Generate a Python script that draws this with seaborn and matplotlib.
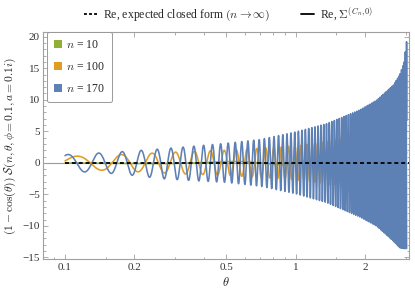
import numpy as np
import pandas as pd
import matplotlib
matplotlib.use("Agg")
import matplotlib.pyplot as plt
import seaborn as sns
from matplotlib.lines import Line2D
from matplotlib.patches import Patch

# ---------------- data ----------------
n_values = [10, 100, 170]
series_labels = [r"$n$ = 10", r"$n$ = 100", r"$n$ = 170"]
series_colors = ["#8FB032", "#E19C24", "#5E81B5"]
# theta of a crest of each series (phase)
crest_theta = [-0.094, 0.1127, 0.103]

# envelope knots (theta) and crest / trough heights
theta_knots = [0.1, 0.15, 0.2, 0.26, 0.35, 0.5, 0.7, 1.0, 1.36, 1.9, 2.24, 2.65, 2.83, 2.95, 3.03]
upper_10 = [0.12, 0.12, 0.12, 0.13, 0.15, 0.2, 0.25, 0.35, 0.45, 0.6, 0.75, 1.0, 1.2, 1.4, 1.6]
lower_10 = [0.12, 0.12, 0.12, 0.13, 0.15, 0.2, 0.25, 0.35, 0.45, 0.6, 0.75, 1.0, 1.2, 1.4, 1.6]
upper_100 = [1.0, 1.2, 1.4, 1.6, 1.8, 2.0, 2.3, 2.7, 3.3, 4.5, 5.4, 7.2, 8.5, 10.5, 15.0]
lower_100 = [1.0, 1.2, 1.4, 1.6, 1.8, 2.0, 2.3, 2.7, 3.3, 4.5, 5.4, 7.2, 8.5, 10.5, 15.0]
upper_170 = [1.3, 1.6, 1.9, 2.2, 2.6, 3.1, 3.7, 4.9, 6.2, 8.4, 9.9, 12.3, 14.0, 16.0, 19.5]
lower_170 = [1.3, 1.6, 2.0, 2.5, 2.8, 3.1, 3.7, 4.9, 6.3, 8.6, 10.0, 12.4, 13.5, 13.6, 13.6]
upper_env = [upper_10, upper_100, upper_170]
lower_env = [lower_10, lower_100, lower_170]

theta_start, theta_end = 0.1, 3.03
closed_theta = [0.1, 3.1]
closed_value = [0.0, 0.0]

x_major = [0.1, 0.2, 0.5, 1, 2]
x_major_labels = ["0.1", "0.2", "0.5", "1", "2"]
x_minor = [0.09, 0.15, 0.3, 0.4, 0.6, 0.7, 0.8, 0.9, 1.5, 3]
y_major = [-15, -10, -5, 0, 5, 10, 15, 20]

# ---------------- build long table ----------------
theta = np.linspace(theta_start, theta_end, 40000)
logk = np.log(theta_knots)
frames = []
for n, lab, c0, up, lo in zip(n_values, series_labels, crest_theta, upper_env, lower_env):
    carrier = np.cos(n * (theta - c0))
    up_i = np.interp(np.log(theta), logk, up)
    lo_i = np.interp(np.log(theta), logk, lo)
    val = np.where(carrier > 0, up_i * carrier, lo_i * carrier)
    frames.append(pd.DataFrame({"theta": theta, "value": val, "series": lab}))
df = pd.concat(frames, ignore_index=True)
df_closed = pd.DataFrame({"theta": closed_theta, "value": closed_value})

# ---------------- style ----------------
sns.set_theme(style="ticks")
plt.rcParams["font.family"] = ["Liberation Serif", "DejaVu Serif"]
plt.rcParams["mathtext.fontset"] = "cm"

W, H = 415, 296
fig = plt.figure(figsize=(W / 100, H / 100), dpi=100)
left, right, top, bottom = 43.3, 409.3, 32.3, 259.3
ax = fig.add_axes([left / W, 1 - bottom / H, (right - left) / W, (bottom - top) / H])

ax.axhline(0, color="#9a9a9a", lw=0.8, zorder=0.5)

sns.lineplot(data=df, x="theta", y="value", hue="series", hue_order=series_labels,
             palette=series_colors, estimator=None, sort=False, lw=1.15,
             legend=False, ax=ax, zorder=2)
sns.lineplot(data=df_closed, x="theta", y="value", color="black", lw=1.3,
             estimator=None, sort=False, ax=ax, zorder=3)
ax.lines[-1].set_linestyle((0, (2.2, 1.6)))

ax.set_xscale("log")
ax.set_xlim(0.0805, 3.107)
ax.set_ylim(-15.3, 20.7)
ax.set_xticks(x_major)
ax.set_xticklabels(x_major_labels)
ax.set_xticks(x_minor, minor=True)
ax.set_xticklabels([], minor=True)
ax.set_yticks(y_major)
ax.set_yticklabels([("\u2212" + str(-v)) if v < 0 else str(v) for v in y_major])
ax.set_yticks(np.arange(-15, 21, 1), minor=True)

gray = "#a0a0a0"
for sp in ax.spines.values():
    sp.set_color(gray)
    sp.set_linewidth(0.8)
    sp.set_visible(True)
ax.tick_params(which="both", direction="in", top=True, right=True, color=gray,
               width=0.6, labelsize=8, labelcolor="#333333", pad=2.5)
ax.tick_params(which="major", length=3.5)
ax.tick_params(which="minor", length=1.8)

ax.set_xlabel(r"$\theta$", fontsize=9, labelpad=3)
ax.set_ylabel(r"$(1-\mathrm{cos}(\theta))\ \mathcal{S}(n, \theta, \phi = 0.1, a = 0.1i)$",
              fontsize=8.3, labelpad=3, color="#222222")

# inner legend (colour swatches)
handles = [Patch(facecolor=c, edgecolor="none") for c in series_colors]
leg = ax.legend(handles, series_labels, loc="upper left",
                bbox_to_anchor=(46.7 / W, 1 - 31.7 / H), bbox_transform=fig.transFigure,
                borderaxespad=0, fontsize=8.5, handlelength=0.7, handleheight=0.7,
                handletextpad=0.35, labelspacing=0.85, borderpad=0.6,
                frameon=True, fancybox=True, edgecolor="#999999", framealpha=1)
leg.get_frame().set_linewidth(0.7)

# top legend (line styles)
top_handles = [Line2D([], [], color="black", lw=1.3, linestyle=(0, (1.6, 1.2))),
               Line2D([], [], color="black", lw=1.3)]
top_labels = [r"Re, expected closed form $(n \to \infty)$", r"Re, $\Sigma^{(C_n,0)}$"]
fig.legend(top_handles, top_labels, loc="center", bbox_to_anchor=(229 / W, 1 - 14 / H),
           ncol=2, frameon=False, fontsize=8.5, handlelength=1.1, handletextpad=0.5,
           columnspacing=2.6)

fig.savefig("out.png", dpi=100)
